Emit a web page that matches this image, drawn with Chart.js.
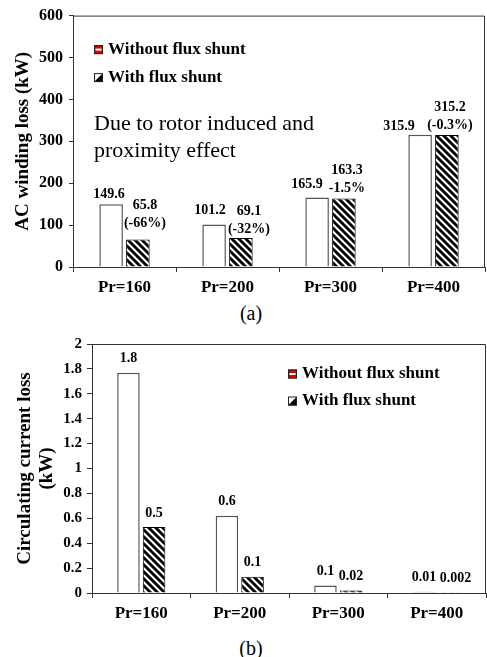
<!DOCTYPE html>
<html>
<head>
<meta charset="utf-8">
<script src="https://cdn.jsdelivr.net/npm/chart.js@4"></script>
<style>
    body { margin: 0; background: #fff; width: 487px; height: 657px; position: relative; overflow: hidden;
           font-family: "Liberation Serif", "Times New Roman", serif; }
    canvas { position: absolute; left: 0; }
    #chartA { top: 0; }
    #chartB { top: 330px; }
    .cap { position: absolute; left: 221px; width: 60px; text-align: center; font-size: 20px; line-height: 20px; }
</style>
</head>
<body>
<canvas id="chartA" width="487" height="300"></canvas>
<div class="cap" style="top:303px">(a)</div>
<canvas id="chartB" width="487" height="290"></canvas>
<div class="cap" style="top:638px">(b)</div>

<script>
var categories = ["Pr=160", "Pr=200", "Pr=300", "Pr=400"];
var seriesNames = ["Without flux shunt", "With flux shunt"];

// (a) AC winding loss, kW
var acWithout = [149.6, 101.2, 165.9, 315.9];
var acWith = [65.8, 69.1, 163.3, 315.2];
var acWithoutText = ["149.6", "101.2", "165.9", "315.9"];
var acWithText = [["65.8", "(-66%)"], ["69.1", "(-32%)"], ["163.3", "-1.5%"], ["315.2", "(-0.3%)"]];

// (b) circulating current loss, kW
var circWithout = [1.77, 0.62, 0.06, 0.01];
var circWith = [0.53, 0.13, 0.02, 0.002];
var circWithoutText = ["1.8", "0.6", "0.1", "0.01"];
var circWithText = ["0.5", "0.1", "0.02", "0.002"];

var FONT = "Liberation Serif";

function hatch() {
    var p = document.createElement("canvas");
    p.width = 7;
    p.height = 7;
    var c = p.getContext("2d");
    c.fillStyle = "#fff";
    c.fillRect(0, 0, 7, 7);
    c.strokeStyle = "#000";
    c.lineWidth = 2.8;
    for (var k = -1; k <= 1; k++) {
        c.beginPath();
        c.moveTo(k * 7 - 1, -1);
        c.lineTo(k * 7 + 8, 8);
        c.stroke();
    }
    return c.createPattern(p, "repeat");
}

// top + right border of the plot box
var framePlugin = {
    id: "frame",
    afterDraw: function (chart) {
        var a = chart.chartArea, ctx = chart.ctx;
        ctx.save();
        ctx.strokeStyle = "#333";
        ctx.lineWidth = 1;
        ctx.beginPath();
        ctx.moveTo(a.left, a.top + 0.5);
        ctx.lineTo(a.right - 0.5, a.top + 0.5);
        ctx.lineTo(a.right - 0.5, a.bottom);
        ctx.stroke();
        ctx.restore();
    }
};

// labels above the bars; nudge = hand placement [dx, dy] per label, like in the original figure
function valueLabels(texts, nudge, gap, lineH) {
    return {
        id: "valueLabels",
        afterDatasetsDraw: function (chart) {
            var ctx = chart.ctx;
            ctx.save();
            ctx.font = "bold 14px '" + FONT + "'";
            ctx.fillStyle = "#000";
            ctx.textAlign = "center";
            ctx.textBaseline = "middle";
            texts.forEach(function (list, di) {
                var meta = chart.getDatasetMeta(di);
                meta.data.forEach(function (bar, i) {
                    var lines = [].concat(list[i]);
                    var n = nudge[di][i] || [0, 0];
                    for (var j = 0; j < lines.length; j++) {
                        var y = bar.y - gap - (lines.length - 1 - j) * lineH + n[1];
                        ctx.fillText(lines[j], bar.x + n[0], y);
                    }
                });
            });
            ctx.restore();
        }
    };
}

function boxLegend(offX, offY, rowH) {
    return {
        id: "boxLegend",
        afterDraw: function (chart) {
            var ctx = chart.ctx, a = chart.chartArea;
            ctx.save();
            ctx.font = "bold 17px '" + FONT + "'";
            ctx.fillStyle = "#000";
            ctx.textBaseline = "middle";
            chart.data.datasets.forEach(function (ds, i) {
                var x = a.left + offX, y = a.top + offY + i * rowH;
                var s = 9;
                if (i === 0) {
                    ctx.fillStyle = "#e00000";
                    ctx.fillRect(x, y - s / 2, s, s);
                    ctx.fillStyle = "#fff";
                    ctx.fillRect(x + 1.5, y - 1, s - 3, 2);
                } else {
                    ctx.fillStyle = "#fff";
                    ctx.fillRect(x, y - s / 2, s, s);
                    ctx.fillStyle = "#000";
                    ctx.beginPath();
                    ctx.moveTo(x + s, y - s / 2);
                    ctx.lineTo(x + s, y + s / 2);
                    ctx.lineTo(x, y + s / 2);
                    ctx.closePath();
                    ctx.fill();
                }
                ctx.strokeStyle = "#222";
                ctx.lineWidth = 1;
                ctx.strokeRect(x + 0.5, y - s / 2 + 0.5, s - 1, s - 1);
                ctx.fillStyle = "#000";
                ctx.fillText(ds.label, x + s + 5, y);
            });
            ctx.restore();
        }
    };
}

var noteA = {
    id: "note",
    afterDraw: function (chart) {
        var ctx = chart.ctx, a = chart.chartArea;
        ctx.save();
        ctx.font = "22px '" + FONT + "'";
        ctx.fillStyle = "#000";
        ctx.textBaseline = "middle";
        ctx.fillText("Due to rotor induced and", a.left + 21, a.top + 109);
        ctx.fillText("proximity effect", a.left + 21, a.top + 136);
        ctx.restore();
    }
};

function xAxis(h) {
    return {
        grid: { drawOnChartArea: false, drawTicks: true, tickLength: 5, color: "#333", offset: true },
        border: { color: "#333" },
        ticks: { font: { family: FONT, size: 17, weight: "bold" }, color: "#000", padding: 5 },
        afterFit: function (s) { s.height = h; }
    };
}

function bars(without, withS) {
    return [{
        label: seriesNames[0],
        data: without,
        backgroundColor: "#fff",
        borderColor: "#555",
        borderWidth: 1.5,
        categoryPercentage: 0.52,
        barPercentage: 0.88
    }, {
        label: seriesNames[1],
        data: withS,
        backgroundColor: hatch(),
        borderColor: "#000",
        borderWidth: 1,
        categoryPercentage: 0.52,
        barPercentage: 0.88
    }];
}

new Chart(document.getElementById("chartA"), {
    type: "bar",
    data: { labels: categories, datasets: bars(acWithout, acWith) },
    options: {
        responsive: false,
        animation: false,
        layout: { padding: { top: 9, right: 2, left: 0, bottom: 0 } },
        plugins: { legend: { display: false }, tooltip: { enabled: false } },
        scales: {
            x: xAxis(33),
            y: {
                min: 0, max: 600,
                ticks: { stepSize: 100, font: { family: FONT, size: 16, weight: "bold" }, color: "#000", padding: 6 },
                grid: { drawOnChartArea: false, tickLength: 4, color: "#333" },
                border: { color: "#333" },
                title: {
                    display: true, text: "AC winding loss (kW)", color: "#000",
                    font: { family: FONT, size: 19, weight: "bold" }, padding: { top: 12 }
                },
                afterFit: function (s) { s.width = 73; }
            }
        }
    },
    plugins: [framePlugin,
        valueLabels([acWithoutText, acWithText],
            [[[-2, 0], [-4, -4], [-10, -3], [-21, 2]], [[7, -6], [8, 1], [3, 0], [3, 0]]], 10, 18),
        boxLegend(21, 34, 28), noteA]
});

new Chart(document.getElementById("chartB"), {
    type: "bar",
    data: { labels: categories, datasets: bars(circWithout, circWith) },
    options: {
        responsive: false,
        animation: false,
        layout: { padding: { top: 11, right: 1, left: 0, bottom: 0 } },
        plugins: { legend: { display: false }, tooltip: { enabled: false } },
        scales: {
            x: xAxis(27),
            y: {
                min: 0, max: 2,
                ticks: {
                    stepSize: 0.2, font: { family: FONT, size: 15, weight: "bold" }, color: "#000", padding: 5,
                    callback: function (v) { return String(+v.toFixed(1)); }
                },
                grid: { drawOnChartArea: false, tickLength: 5, color: "#333" },
                border: { color: "#333" },
                title: {
                    display: true, text: ["Circulating current loss", "(kW)"], color: "#000",
                    font: { family: FONT, size: 19, weight: "bold", lineHeight: 1.16 }, padding: { top: 14 }
                },
                afterFit: function (s) { s.width = 92; }
            }
        }
    },
    plugins: [framePlugin,
        valueLabels([circWithoutText, circWithText],
            [[[0, 0], [0, 0], [0, 0], [0, 0]], [[0, 0], [0, 0], [0, 0], [6, 0]]], 14, 18),
        boxLegend(196, 30, 27)]
});
</script>
</body>
</html>
